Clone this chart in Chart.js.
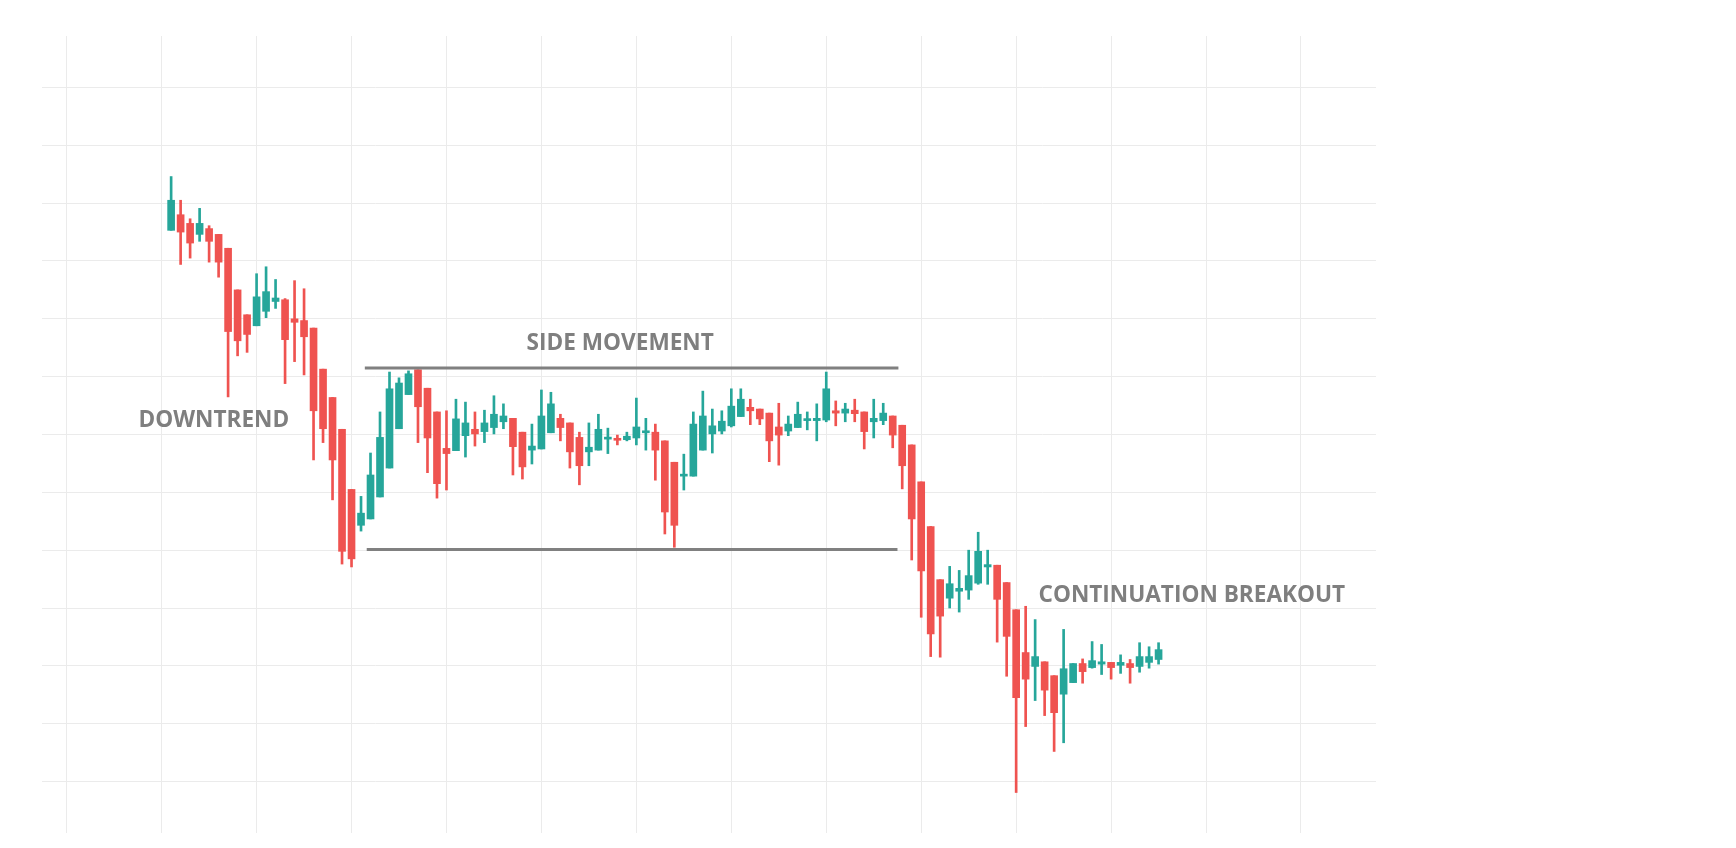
<!DOCTYPE html>
<html>
<head>
<meta charset="utf-8">
<script src="https://cdn.jsdelivr.net/npm/chart.js@4.4.0/dist/chart.umd.min.js"></script>
<style>
  html, body { margin: 0; padding: 0; background: #fff; }
  #wrap { width: 1736px; height: 848px; }
</style>
</head>
<body>
<div id="wrap"><canvas id="chart" width="1736" height="848"></canvas></div>
<script>
// candle values, one per day
const opens = [195.3,198.0,196.5,194.6,195.6,194.6,192.2,185.0,180.7,178.8,181.3,183.0,183.3,180.0,179.7,178.4,171.3,166.4,160.9,150.5,
  144.3,145.4,149.2,154.2,161.0,166.9,171.2,168.0,163.9,157.6,157.2,159.8,160.9,160.5,161.2,162.2,162.8,160.4,157.3,157.5,
  160.3,162.8,162.0,159.5,157.0,157.3,159.2,159.2,159.1,159.4,160.3,160.4,158.9,155.2,152.8,152.8,157.3,160.1,160.6,161.5,
  163.1,164.7,164.4,163.7,161.3,160.6,161.2,162.4,162.4,162.5,164.1,163.7,164.2,163.9,162.2,162.4,163.2,161.6,158.2,151.8,
  144.1,134.9,131.7,132.9,133.1,134.3,137.1,137.4,134.4,129.7,122.3,119.9,120.7,118.3,115.1,117.1,120.4,119.7,120.3,120.6,
  120.1,120.4,119.9,120.6,121.1];
const highs = [204.6,200.5,197.3,199.1,196.1,194.6,192.2,185.0,180.7,187.8,189.0,186.8,183.5,186.6,185.2,178.4,171.3,166.4,160.9,150.5,
  149.3,156.8,163.9,170.8,169.8,171.0,171.2,168.0,163.9,164.1,166.1,165.6,163.9,164.2,166.7,165.3,162.8,160.4,161.8,167.7,
  167.3,163.5,162.0,160.4,162.0,163.5,161.1,159.9,160.4,166.3,162.8,161.8,158.9,155.2,156.6,163.9,167.5,164.4,164.1,167.9,
  167.9,166.1,164.4,163.7,165.4,163.2,165.6,163.9,165.3,170.8,165.8,165.4,166.1,163.9,166.1,165.4,163.2,161.6,158.2,151.8,
  144.1,134.9,137.2,136.5,140.0,143.1,140.0,137.4,134.4,129.7,130.3,128.0,120.7,118.3,126.3,120.4,121.2,124.2,123.7,120.6,
  121.9,121.1,124.0,123.3,124.0];
const lows = [195.3,189.4,190.5,193.4,189.8,187.2,166.5,173.6,174.2,178.8,180.2,181.8,168.8,172.6,170.3,155.6,158.6,148.7,137.6,137.1,
  143.3,145.4,149.2,154.2,161.0,166.9,158.6,153.4,149.0,150.4,157.2,156.1,158.0,158.6,160.1,161.0,153.0,152.3,154.9,157.5,
  160.3,158.9,154.2,151.3,154.6,157.3,156.7,158.2,158.9,158.2,157.3,152.1,142.8,140.5,150.4,152.8,157.3,156.8,160.1,161.3,
  163.1,161.7,161.7,155.3,154.7,159.8,161.2,160.8,158.9,162.2,161.5,162.2,162.2,157.5,159.4,161.7,157.7,150.6,138.3,128.4,
  121.6,121.5,130.0,129.3,131.5,134.1,134.1,124.1,118.2,98.1,109.5,114.0,111.4,105.2,106.7,117.1,117.0,119.6,118.5,117.7,
  118.7,117.0,118.9,119.6,120.3];
const closes = [200.5,195.0,193.1,196.5,193.4,189.8,177.8,176.2,177.3,183.8,184.7,183.6,176.4,179.4,176.9,164.1,161.0,155.6,139.8,138.5,
  146.4,153.0,159.5,167.9,168.9,170.5,164.8,159.4,151.5,156.7,162.7,162.0,160.1,162.0,163.5,163.2,157.9,154.4,158.0,163.2,
  165.3,161.2,157.0,154.6,157.8,160.9,159.3,159.0,159.7,161.3,160.6,157.3,146.6,144.3,153.1,161.8,163.2,161.5,162.3,164.9,
  166.1,164.1,162.7,158.9,159.9,161.8,163.5,162.5,162.8,167.9,163.7,164.4,163.6,160.5,162.8,163.7,159.9,154.6,145.4,136.4,
  125.5,128.6,134.2,133.4,135.6,139.8,137.5,131.5,125.1,114.5,117.7,121.6,115.8,111.9,119.5,120.4,119.0,120.9,120.7,119.7,
  120.6,119.7,121.6,121.6,122.8];

// range lines (support / resistance) and labels
const resistance = [{x: 21.4, y: 171.5}, {x: 77.6, y: 171.5}];
const support = [{x: 21.6, y: 140.1}, {x: 77.5, y: 140.1}];
const labels = [
  {text: 'DOWNTREND', x: 5.5, y: 162.4},
  {text: 'SIDE MOVEMENT', x: 48.3, y: 175.7},
  {text: 'CONTINUATION BREAKOUT', x: 108.5, y: 132.1}
];

const UP = '#26a69a', DOWN = '#ef5350';
const colors = opens.map((o, i) => closes[i] >= o ? UP : DOWN);
const bodies = opens.map((o, i) => ({x: i + 1, y: [o, closes[i]]}));
const wicks = opens.map((o, i) => ({x: i + 1, y: [lows[i], highs[i]]}));

const textPlugin = {
  id: 'labels',
  beforeDraw(chart) {
    const c = chart.ctx;
    c.save();
    c.fillStyle = '#fff';
    c.fillRect(0, 0, chart.width, chart.height);
    c.restore();
  },
  afterDatasetsDraw(chart) {
    const c = chart.ctx, sx = chart.scales.x, sy = chart.scales.y;
    c.save();
    c.font = 'bold 22.6px "Open Sans"';
    c.fillStyle = '#7f7f7f';
    c.textAlign = 'center';
    c.textBaseline = 'middle';
    labels.forEach(l => c.fillText(l.text, sx.getPixelForValue(l.x), sy.getPixelForValue(l.y)));
    c.restore();
  }
};

const gridColor = '#ebebeb';

new Chart(document.getElementById('chart'), {
  type: 'bar',
  data: {
    datasets: [
      {type: 'line', data: resistance, borderColor: '#808080', borderWidth: 3, pointRadius: 0},
      {type: 'line', data: support, borderColor: '#808080', borderWidth: 3, pointRadius: 0},
      {data: bodies, backgroundColor: colors, barThickness: 7, minBarLength: 2, grouped: false},
      {data: wicks, backgroundColor: colors, barThickness: 2, grouped: false}
    ]
  },
  options: {
    responsive: false,
    animation: false,
    layout: {padding: {left: 42, right: 360, top: 36, bottom: 15}},
    plugins: {legend: {display: false}, tooltip: {enabled: false}},
    scales: {
      x: {
        type: 'linear', min: -12.6, max: 127.9, offset: false,
        grid: {offset: false, color: gridColor, drawTicks: false},
        border: {display: false},
        ticks: {display: false, stepSize: 10, includeBounds: false}
      },
      y: {
        type: 'linear', min: 91.1, max: 228.9, beginAtZero: false,
        grid: {color: gridColor, drawTicks: false},
        border: {display: false},
        ticks: {display: false, stepSize: 10, includeBounds: false}
      }
    }
  },
  plugins: [textPlugin]
});
</script>
</body>
</html>
